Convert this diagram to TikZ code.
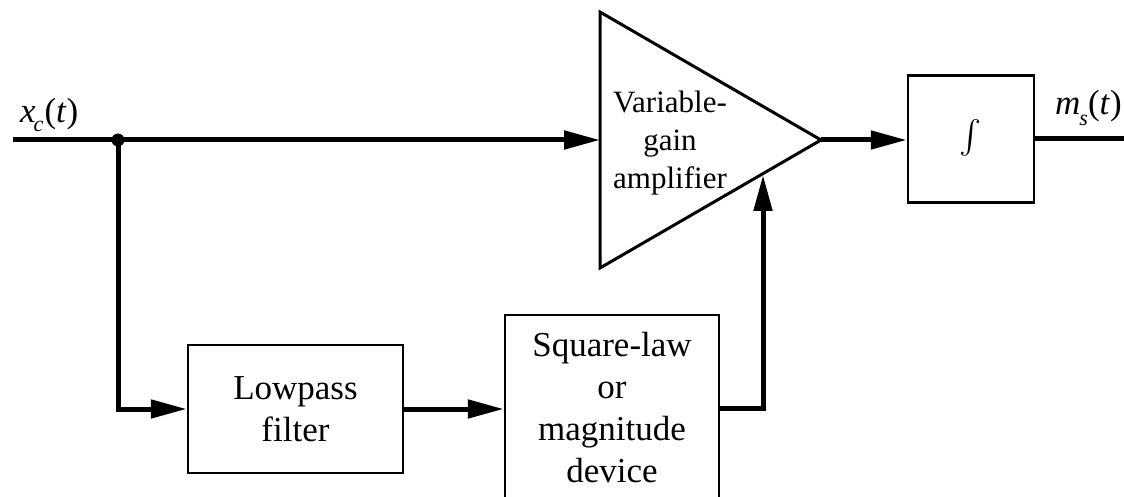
\documentclass[tikz,border=0pt]{standalone}
\usepackage{fontspec}
\setmainfont{Liberation Serif}
\usepackage{graphicx}
\usetikzlibrary{arrows.meta}

\begin{document}
\begin{tikzpicture}[x=1pt,y=-1pt,
  wire/.style={line width=5pt},
  sig/.style={wire,-{Triangle[length=36pt,width=18pt]}},
  block/.style={draw,line width=2.5pt,align=center,inner sep=0pt,
    font=\fontsize{35}{42}\selectfont},
  dot/.style={circle,fill,inner sep=0pt,minimum size=13pt},
  sigtext/.style={anchor=base west,inner sep=0pt,font=\fontsize{35}{35}\selectfont}]

\useasboundingbox (0,0) rectangle (1124,497);
\clip (0,0) rectangle (1124,497);

% variable-gain amplifier (triangle)
\coordinate (atop) at (600,12);
\coordinate (abot) at (600,268);
\coordinate (aout) at (821,140);
\coordinate (ain) at (600,140);
\coordinate (actl) at (763,175);
\draw[line width=3pt,line join=miter] (atop) -- (aout) -- (abot) -- cycle;
\node[align=center,inner sep=0pt,font=\fontsize{31}{38}\selectfont] (amptext)
  at (670,143) {Variable-\\gain\\amplifier};

% blocks
\node[block,minimum width=215pt,minimum height=128pt] (lp) at (295.5,409) {Lowpass\\filter};
\node[block,minimum width=214pt,minimum height=186pt] (sq) at (612,408)
  {Square-law\\or\\magnitude\\device};
\node[block,minimum width=126pt,minimum height=127pt] (int) at (971,139)
  {\resizebox{!}{39pt}{$\int$}};

% input and output ends
\coordinate (xin) at (13,140);
\coordinate (xout) at (1130,139);

% signal paths
\draw[sig] (xin) -- (ain);
\node[dot] (jn) at (118,140) {};
\draw[sig] (jn.center) |- (lp.west);
\draw[sig] (lp.east) -- (lp.east -| sq.west);
\draw[sig] (sq.east) -| (actl);
\draw[sig] (aout) -- (aout -| int.west);
\draw[wire] (int.east) -- (int.east -| xout);

% signal labels
\node[sigtext] (xlab) at (20,123)
  {\textit{x}\kern-2pt\raisebox{-9pt}{\fontsize{22}{22}\selectfont\textit{c}}\kern1pt(\textit{t})};
\node[sigtext] (mlab) at (1055,115)
  {\textit{m}\kern-1pt\raisebox{-11pt}{\fontsize{22}{22}\selectfont\textit{s}}(\textit{t})};

\end{tikzpicture}
\end{document}
